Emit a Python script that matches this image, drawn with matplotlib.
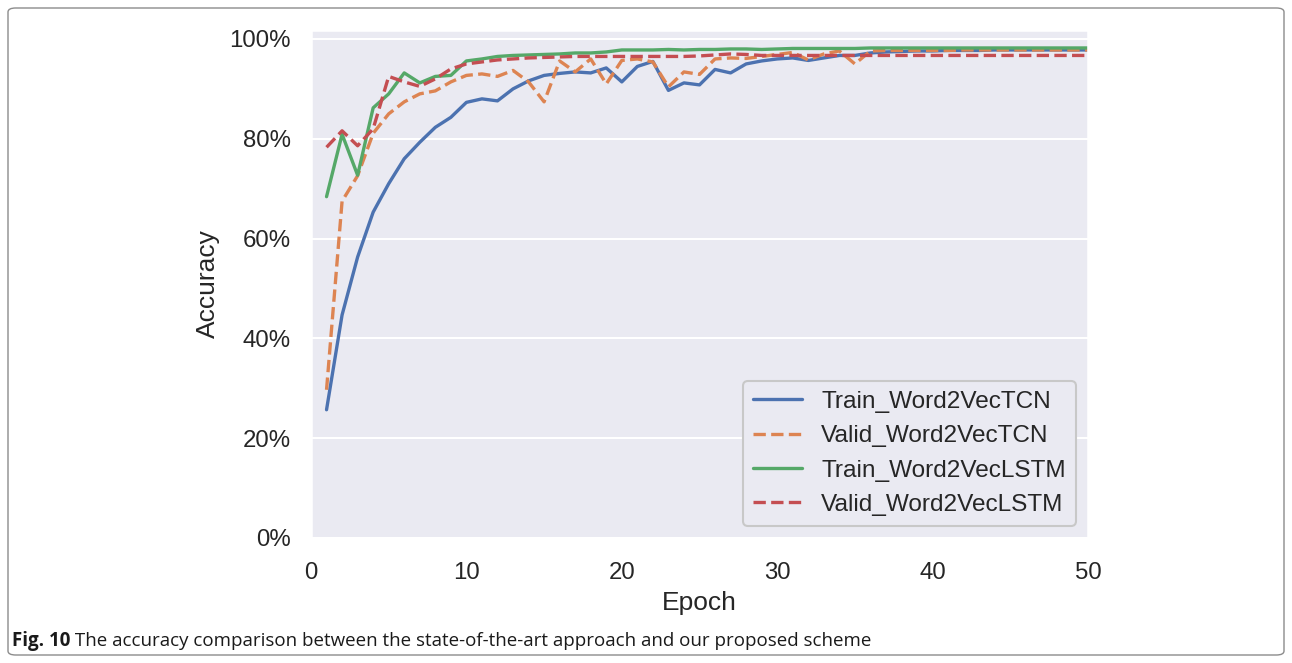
import numpy as np
import matplotlib
matplotlib.use("Agg")
import matplotlib.pyplot as plt
import seaborn as sns
from matplotlib.ticker import PercentFormatter
from matplotlib.patches import FancyBboxPatch

epochs = list(range(1, 51))

train_tcn = [25.7, 44.7, 56.3, 65.3, 71.0, 76.0, 79.3, 82.3, 84.3, 87.3,
             88.0, 87.6, 90.0, 91.6, 92.7, 93.1, 93.4, 93.2, 94.2, 91.4,
             94.5, 95.5, 89.7, 91.2, 90.8, 93.9, 93.2, 95.0, 95.6, 96.0,
             96.2, 95.7, 96.2, 96.7, 96.7, 97.2, 97.4, 97.5, 97.6, 97.6,
             97.7, 97.7, 97.7, 97.8, 97.8, 97.8, 97.8, 97.8, 97.8, 97.8]

valid_tcn = [29.7, 67.5, 72.6, 81.1, 85.0, 87.4, 89.0, 89.6, 91.4, 92.7,
             93.0, 92.5, 93.7, 91.4, 87.4, 95.6, 93.4, 96.0, 91.0, 95.7,
             96.0, 95.4, 90.4, 93.4, 92.9, 96.0, 96.2, 96.1, 96.5, 96.9,
             97.3, 95.8, 97.0, 97.6, 95.0, 97.6, 97.7, 97.7, 97.7, 97.7,
             97.7, 97.8, 97.8, 97.8, 97.8, 97.8, 97.8, 97.8, 97.8, 97.8]

train_lstm = [68.4, 80.9, 72.7, 86.2, 89.0, 93.2, 91.2, 92.5, 92.7, 95.6,
              96.0, 96.5, 96.7, 96.8, 96.9, 97.0, 97.2, 97.2, 97.4, 97.8,
              97.8, 97.8, 97.9, 97.8, 97.9, 97.9, 98.0, 98.0, 97.9, 98.0,
              98.1, 98.1, 98.1, 98.1, 98.1, 98.2, 98.2, 98.2, 98.2, 98.2,
              98.2, 98.2, 98.2, 98.2, 98.2, 98.2, 98.2, 98.2, 98.2, 98.2]

valid_lstm = [78.3, 81.6, 78.6, 82.0, 92.5, 91.4, 90.5, 92.0, 94.0, 95.0,
              95.4, 95.8, 96.0, 96.2, 96.3, 96.4, 96.5, 96.5, 96.5, 96.5,
              96.5, 96.5, 96.5, 96.5, 96.6, 96.8, 97.0, 96.9, 96.7, 96.7,
              96.7, 96.7, 96.7, 96.7, 96.7, 96.7, 96.7, 96.7, 96.7, 96.7,
              96.7, 96.7, 96.7, 96.7, 96.7, 96.7, 96.7, 96.7, 96.7, 96.7]

series_labels = ["Train_Word2VecTCN", "Valid_Word2VecTCN",
                 "Train_Word2VecLSTM", "Valid_Word2VecLSTM"]
x_ticks = [0, 10, 20, 30, 40, 50]
y_ticks = [0.0, 0.2, 0.4, 0.6, 0.8, 1.0]
caption_bold = "Fig. 10"
caption_text = " The accuracy comparison between the state-of-the-art approach and our proposed scheme"

sns.set_theme(context="talk", style="darkgrid")
plt.rcParams["font.family"] = ["Liberation Sans", "DejaVu Sans"]
plt.rcParams["xtick.labelsize"] = 17.3
plt.rcParams["ytick.labelsize"] = 17.3
plt.rcParams["axes.labelsize"] = 19
plt.rcParams["legend.fontsize"] = 17.6

fig = plt.figure(figsize=(12.92, 6.63), dpi=100)
W, H = 1292, 663
ax = fig.add_axes([311 / W, 1 - 538 / H, (1088 - 311) / W, (538 - 30) / H])

pal = sns.color_palette("deep")
data = [train_tcn, valid_tcn, train_lstm, valid_lstm]
colors = [pal[0], pal[1], pal[2], pal[3]]
styles = ["-", "--", "-", "--"]
for vals, c, ls, lab in zip(data, colors, styles, series_labels):
    ax.plot(epochs, np.array(vals) / 100.0, color=c, linestyle=ls, label=lab, linewidth=2.4)

ax.set_xlim(0, 50)
ax.set_ylim(0, 1.018)
ax.set_xticks(x_ticks)
ax.set_yticks(y_ticks)
ax.yaxis.set_major_formatter(PercentFormatter(1.0, decimals=0))
ax.grid(axis="x", visible=False)
ax.tick_params(axis="x", pad=plt.rcParams["xtick.major.pad"] + 4.5)
ax.tick_params(axis="y", pad=plt.rcParams["ytick.major.pad"] + 2)
ax.set_xlabel("Epoch", labelpad=plt.rcParams["axes.labelpad"] + 1)
ax.set_ylabel("Accuracy", labelpad=plt.rcParams["axes.labelpad"] + 3)
leg = ax.legend(loc="lower right", facecolor="#EAEAF2", edgecolor="#c8c8c8", framealpha=1.0)

# outer frame
frame = FancyBboxPatch((8 / W, 8 / H), (1284 - 8) / W, (655 - 8) / H,
                       boxstyle="round,pad=0,rounding_size=0.006",
                       transform=fig.transFigure, facecolor="none",
                       edgecolor="#8c8c8c", linewidth=1.0, zorder=0)
fig.patches.append(frame)

# caption
cap_font = ["Open Sans", "DejaVu Sans"]
t1 = fig.text(12 / W, 1 - 641 / H, caption_bold, fontsize=13.5, fontweight="bold",
              family=cap_font, va="center", ha="left", color="#1a1a1a")
fig.canvas.draw()
bb = t1.get_window_extent(renderer=fig.canvas.get_renderer())
fig.text(bb.x1 / W, 1 - 641 / H, caption_text, fontsize=13.5,
         family=cap_font, va="center", ha="left", color="#1a1a1a")

fig.savefig("out.png", dpi=100)
